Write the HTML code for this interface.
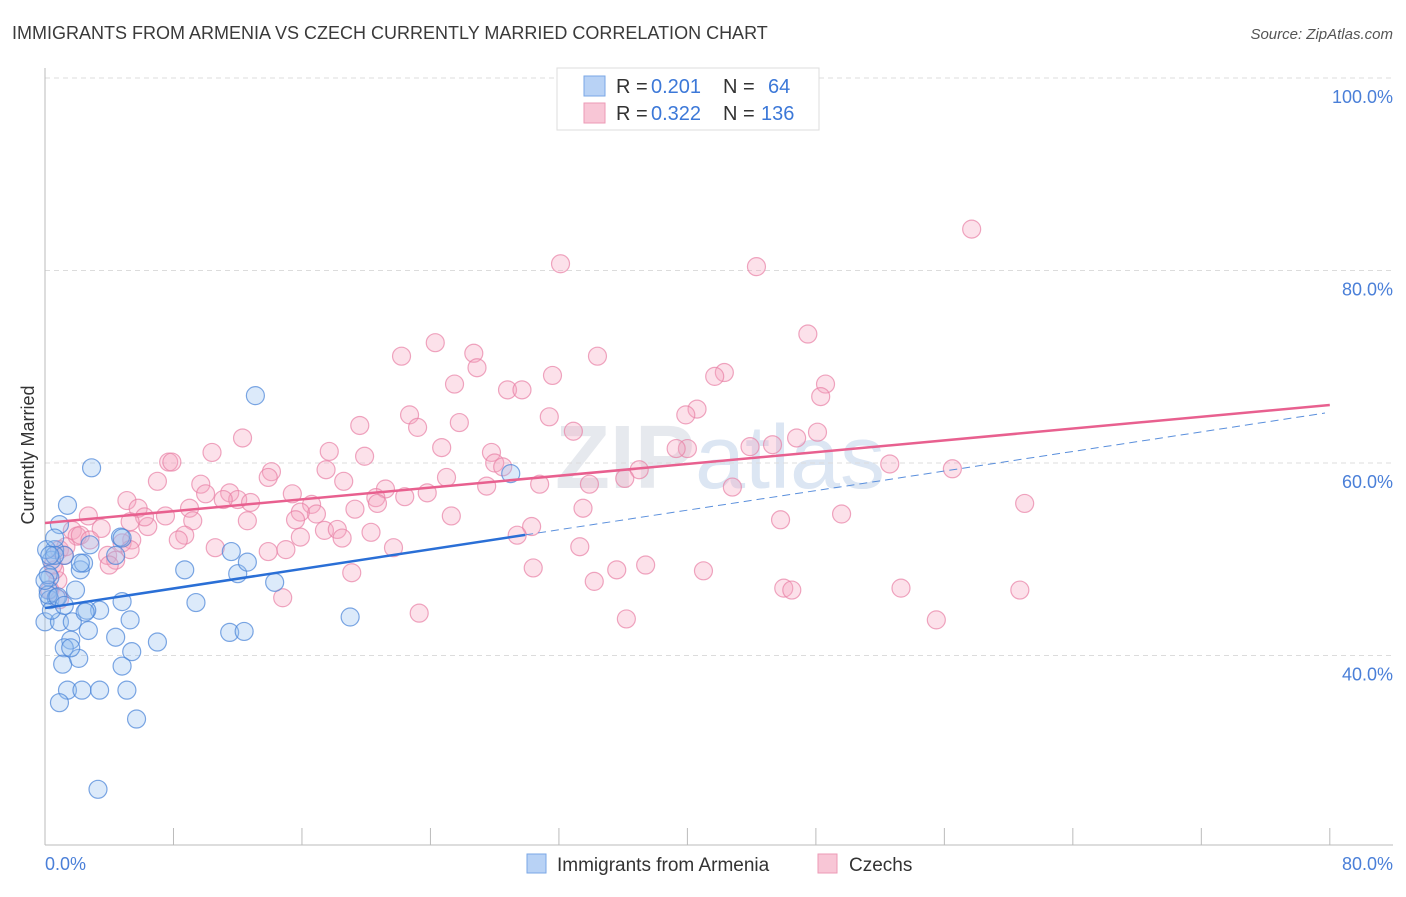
<!DOCTYPE html>
<html><head><meta charset="utf-8">
<style>
body{margin:0;background:#fff;font-family:"Liberation Sans",sans-serif;}
svg text{font-family:"Liberation Sans",sans-serif;}
</style></head>
<body>
<svg id="chart" width="1406" height="892" viewBox="0 0 1406 892">
<text x="12" y="39" font-size="18" fill="#3a3a3a">IMMIGRANTS FROM ARMENIA VS CZECH CURRENTLY MARRIED CORRELATION CHART</text>
<text x="1393" y="39" font-size="15" fill="#555" font-style="italic" text-anchor="end">Source: ZipAtlas.com</text>
<text x="720" y="488" font-size="90" fill="#e6e9ee" text-anchor="middle" font-family="Liberation Serif" font-weight="bold">ZIP<tspan fill="#dce6f3" font-family="Liberation Sans" font-weight="normal">atlas</tspan></text>
<g id="grid"></g>
<g id="axes"></g>
<g id="pts"></g>
<g id="lines"></g>
<text transform="translate(34,455) rotate(-90)" font-size="18" fill="#333" text-anchor="middle">Currently Married</text>
<g>
<rect x="557" y="68" width="262" height="62" fill="#fff" stroke="#ddd"/>
<rect x="584" y="76" width="21" height="20" fill="#b8d2f5" stroke="#7aa7e6"/>
<text x="616" y="93" font-size="20" fill="#333">R =</text>
<text x="651" y="93" font-size="20" fill="#3c78d8">0.201</text>
<text x="723" y="93" font-size="20" fill="#333">N =</text>
<text x="768" y="93" font-size="20" fill="#3c78d8">64</text>
<rect x="584" y="103" width="21" height="20" fill="#f8c6d6" stroke="#ec9ab6"/>
<text x="616" y="120" font-size="20" fill="#333">R =</text>
<text x="651" y="120" font-size="20" fill="#3c78d8">0.322</text>
<text x="723" y="120" font-size="20" fill="#333">N =</text>
<text x="761" y="120" font-size="20" fill="#3c78d8">136</text>
</g>
<g>
<rect x="527" y="854" width="19" height="19" fill="#b8d2f5" stroke="#7aa7e6"/>
<text x="557" y="871" font-size="19" fill="#333">Immigrants from Armenia</text>
<rect x="818" y="854" width="19" height="19" fill="#f8c6d6" stroke="#ec9ab6"/>
<text x="849" y="871" font-size="19" fill="#333">Czechs</text>
</g>
</svg>
<script>
const blueX=[1.4,0.9,0.6,0.4,0.3,0.2,0.3,0.7,0,0.9,1.7,2.7,3.4,4.8,2.6,0.4,1.9,2.2,2.4,2.8,4.4,4.7,2.9,1.2,1.6,1.2,1.1,2.1,4.4,5.3,5.4,7.0,4.8,1.4,2.3,3.4,5.1,0.9,5.7,3.3,8.7,9.4,11.6,12.0,12.6,14.3,11.5,12.4,13.1,19.0,29.0,0.1,0.6,0.2,0.2,0.8,0.6,2.2,2.5,4.8,1.2,0,1.6,0.3];
const blueY=[55.6,53.6,51.0,49.9,48.1,46.8,45.8,46.0,43.5,43.5,43.5,42.6,44.7,45.6,44.7,44.7,46.8,48.9,49.6,51.5,50.4,52.3,59.5,50.4,41.6,40.8,39.1,39.7,41.9,43.7,40.4,41.4,38.9,36.4,36.4,36.4,36.4,35.1,33.4,26.1,48.9,45.5,50.8,48.5,49.7,47.6,42.4,42.5,67.0,44.0,58.9,51.0,52.2,48.4,46.3,46.1,50.4,49.6,44.5,52.2,45.2,47.8,40.8,50.4];
const pinkX=[32.1,44.3,57.7,47.5,24.3,26.7,22.2,34.4,26.9,31.6,25.5,28.8,29.7,48.6,48.3,42.3,41.7,40.6,39.9,31.4,22.7,23.2,25.8,19.6,32.9,48.1,46.8,45.3,43.9,40.0,39.3,27.8,24.7,17.7,12.3,10.4,19.9,7.7,7.9,28.0,28.5,17.5,14.1,13.9,37.0,52.6,56.5,25.0,18.6,7.0,9.7,11.5,12.0,12.8,11.1,10.0,5.1,9.0,5.8,21.2,20.6,22.4,23.8,27.5,30.8,33.9,36.1,42.8,15.4,16.6,16.9,15.9,19.3,20.7,33.5,49.6,45.8,61.0,25.3,15.6,12.6,9.2,7.5,6.4,6.2,8.7,8.3,5.3,2.7,3.5,5.4,4.8,1.7,2.0,2.2,3.9,4.4,5.3,10.6,13.9,15.0,15.9,17.4,18.2,18.5,20.3,21.7,30.3,29.4,33.3,30.4,35.6,37.4,41.0,34.2,46.0,46.5,53.3,60.7,23.3,36.2,55.5,14.8,19.1,0.9,1.2,0.8,0.6,0.3,0.9,1.3,0.5,2.8,4.0];
const pinkY=[80.7,80.4,84.3,73.4,72.5,71.4,71.1,71.1,69.9,69.1,68.2,67.6,67.6,68.2,66.9,69.4,69.0,65.6,65.0,64.8,65.0,63.7,64.2,63.9,63.3,63.2,62.6,61.9,61.7,61.5,61.5,61.1,61.6,61.2,62.6,61.1,60.7,60.1,60.1,60.0,59.6,59.3,59.1,58.5,59.3,59.9,59.4,58.5,58.1,58.1,57.8,56.9,56.2,55.9,56.2,56.8,56.1,55.3,55.3,57.3,56.4,56.5,56.9,57.6,57.8,57.8,58.4,57.5,56.8,55.7,54.7,54.9,55.2,55.8,55.3,54.7,54.1,55.8,54.5,54.1,54.0,54.0,54.5,53.4,54.4,52.5,52.0,53.9,54.5,53.2,52.0,51.7,53.0,52.4,52.5,50.4,49.9,51.0,51.2,50.8,51.0,52.3,53.0,53.1,52.2,52.8,51.2,53.4,52.5,51.3,49.1,48.9,49.4,48.8,47.7,47.0,46.8,47.0,46.8,44.4,43.8,43.7,46.0,48.6,51.0,50.4,47.8,48.9,46.8,45.8,51.3,49.4,52.0,49.4];
const yTicks=[40,60,80,100];
const yTickLabels=["40.0%","60.0%","80.0%","100.0%"];
const xTicks=[0,8,16,24,32,40,48,56,64,72,80];
const blueTrend=[44.93,65.19];
const blueSolidEnd=29.9;
const pinkTrend=[53.77,66.03];

const NS="http://www.w3.org/2000/svg";
const X=v=>45+v*16.06;
const Y=v=>463-(v-60)*9.625;
function mk(tag,attrs,parent){const e=document.createElementNS(NS,tag);for(const k in attrs)e.setAttribute(k,attrs[k]);parent.appendChild(e);return e;}
const grid=document.getElementById('grid'),axes=document.getElementById('axes'),pts=document.getElementById('pts'),lines=document.getElementById('lines');
yTicks.forEach((t,i)=>{
  const g=mk('line',{x1:45,x2:1393,y1:Y(t),y2:Y(t),stroke:'#dcdcdc','stroke-dasharray':'5,4'},grid);
  
  
  const tx=mk('text',{x:1393,y:Y(t)+25,'font-size':18,fill:'#4a7fd8','text-anchor':'end'},axes);
  tx.textContent=yTickLabels[i];
  
  
});
const ya=mk('line',{x1:45,x2:45,y1:68,y2:845,stroke:'#bbb'},axes);


const xa=mk('line',{x1:45,x2:1393,y1:845,y2:845,stroke:'#bbb'},axes);


xTicks.forEach(t=>{
  const l=mk('line',{x1:X(t),x2:X(t),y1:828,y2:845,stroke:'#bbb'},axes);
  
  
});
const x0=mk('text',{x:45,y:870,'font-size':18,fill:'#4a7fd8'},axes);x0.textContent="0.0%";


const x1=mk('text',{x:1393,y:870,'font-size':18,fill:'#4a7fd8','text-anchor':'end'},axes);x1.textContent="80.0%";


pinkX.forEach((v,i)=>{
  const c=mk('circle',{cx:X(v),cy:Y(pinkY[i]),r:9,fill:'rgba(245,165,192,0.33)',stroke:'rgba(232,128,165,0.7)','stroke-width':1.2},pts);
  
  
});
blueX.forEach((v,i)=>{
  const c=mk('circle',{cx:X(v),cy:Y(blueY[i]),r:9,fill:'rgba(150,190,240,0.33)',stroke:'rgba(70,130,215,0.7)','stroke-width':1.2},pts);
  
  
});
const bAt=x=>blueTrend[0]+(blueTrend[1]-blueTrend[0])*x/79.7;
const pAt=x=>pinkTrend[0]+(pinkTrend[1]-pinkTrend[0])*x/80;
const bd=mk('line',{x1:X(blueSolidEnd),y1:Y(bAt(blueSolidEnd)),x2:X(79.7),y2:Y(bAt(79.7)),stroke:'#5a8fdc','stroke-width':1,'stroke-dasharray':'8,5'},lines);


const bl=mk('line',{x1:X(0),y1:Y(bAt(0)),x2:X(blueSolidEnd),y2:Y(bAt(blueSolidEnd)),stroke:'#2a6fd6','stroke-width':2.5},lines);


const pl=mk('line',{x1:X(0),y1:Y(pAt(0)),x2:X(80),y2:Y(pAt(80)),stroke:'#e8608f','stroke-width':2.5},lines);


</script>
</body></html>
